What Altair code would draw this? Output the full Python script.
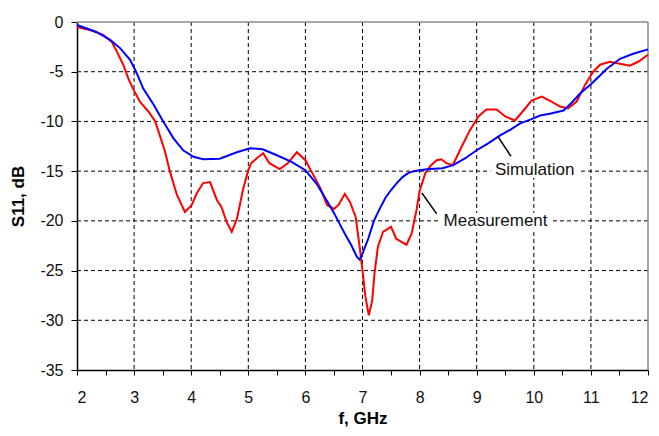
import altair as alt
import pandas as pd

# ---- data ----
sim_f = [2.0, 2.34, 2.58, 2.75, 2.93, 3.0, 3.05, 3.16, 3.34, 3.51, 3.69, 3.86, 4.04, 4.21, 4.5,
         4.8, 5.03, 5.25, 5.5, 5.75, 6.0, 6.2, 6.4, 6.5, 6.6, 6.7, 6.8, 6.9, 6.95, 7.0, 7.1,
         7.2, 7.3, 7.4, 7.5, 7.6, 7.7, 7.8, 7.9, 8.12, 8.4, 8.59, 8.8, 9.0, 9.2, 9.41, 9.6,
         9.76, 9.95, 10.11, 10.3, 10.52, 10.65, 10.81, 11.01, 11.28, 11.51, 11.74, 12.0]
sim_db = [-0.3, -1.0, -1.8, -2.6, -3.8, -4.6, -5.2, -6.7, -8.3, -10.0, -11.7, -12.9, -13.55, -13.8, -13.75,
          -13.1, -12.7, -12.8, -13.4, -14.05, -14.9, -16.3, -18.2, -19.2, -20.3, -21.4, -22.4, -23.6, -23.9, -23.3, -21.8,
          -20.0, -18.8, -17.7, -16.9, -16.2, -15.6, -15.2, -15.0, -14.8, -14.7, -14.4, -13.7, -12.9, -12.2, -11.4, -10.8,
          -10.2, -9.8, -9.4, -9.2, -8.9, -8.2, -7.2, -6.2, -4.7, -3.7, -3.2, -2.75]

meas_f = [2.0, 2.23, 2.46, 2.61, 2.7, 2.81, 2.9, 2.99, 3.1, 3.25, 3.37, 3.45, 3.54, 3.63, 3.75, 3.89,
          4.01, 4.1, 4.21, 4.33, 4.45, 4.53, 4.62, 4.71, 4.8, 4.91, 5.0, 5.05, 5.15, 5.26, 5.37, 5.55,
          5.69, 5.85, 6.0, 6.14, 6.26, 6.38, 6.5, 6.58, 6.69, 6.78, 6.88, 6.95, 7.0, 7.05, 7.11, 7.17,
          7.21, 7.27, 7.36, 7.5, 7.59, 7.77, 7.86, 7.95, 8.0, 8.1, 8.2, 8.3, 8.38, 8.47, 8.58, 8.74,
          8.88, 9.03, 9.17, 9.35, 9.5, 9.67, 9.82, 9.96, 10.14, 10.31, 10.46, 10.6, 10.75, 10.9, 11.04,
          11.16, 11.33, 11.51, 11.68, 11.83, 12.0]
meas_db = [-0.5, -0.8, -1.3, -2.0, -3.0, -4.3, -5.7, -6.8, -8.0, -9.0, -10.0, -11.4, -13.0, -15.1, -17.4, -19.1,
           -18.4, -17.2, -16.2, -16.1, -17.9, -18.6, -20.1, -21.1, -19.8, -16.8, -14.9, -14.2, -13.7, -13.2, -14.2, -14.8,
           -14.2, -13.1, -13.9, -15.4, -16.7, -18.4, -18.8, -18.4, -17.3, -18.1, -19.6, -22.6, -25.0, -27.6, -29.5, -28.0,
           -25.3, -22.6, -21.1, -20.6, -21.8, -22.4, -21.3, -18.8, -17.0, -15.2, -14.4, -13.9, -13.8, -14.2, -14.4, -12.5,
           -10.9, -9.5, -8.8, -8.8, -9.5, -9.9, -8.9, -7.9, -7.5, -8.0, -8.5, -8.7, -8.0, -6.3, -5.0,
           -4.3, -4.0, -4.2, -4.4, -4.0, -3.3]

x_grid = [3, 4, 5, 6, 7, 8, 9, 10, 11]
y_grid = [-30, -25, -20, -15, -10, -5]
x_ticks = [2 + 0.5 * i for i in range(21)]
y_ticks = [-35, -30, -25, -20, -15, -10, -5, 0]

labels = ["Simulation", "Measurement"]
label_f = [9.32, 8.42]
label_db = [-14.9, -20.0]
box_f1 = [9.24, 8.34]
box_f2 = [10.8, 10.33]
box_db1 = [-14.1, -19.2]
box_db2 = [-15.7, -20.8]
lead_f1 = [9.37, 8.04]
lead_db1 = [-11.5, -17.2]
lead_f2 = [9.6, 8.3]
lead_db2 = [-13.5, -19.3]

FONT = "Liberation Sans"

lines_df = pd.concat([
    pd.DataFrame({"f": meas_f, "db": meas_db, "series": "Measurement", "order": range(len(meas_f))}),
    pd.DataFrame({"f": sim_f, "db": sim_db, "series": "Simulation", "order": range(len(sim_f))}),
])

xscale = alt.Scale(domain=[2, 12], nice=False, zero=False)
yscale = alt.Scale(domain=[-35, 0], nice=False, zero=False)

xaxis = alt.Axis(
    values=x_ticks, grid=False, title="f, GHz",
    labelExpr="datum.value % 1 == 0 ? toString(datum.value) : ''",
    domainColor="black", domainWidth=1.5, tickColor="black", tickSize=5, tickWidth=1,
    labelFont=FONT, labelFontSize=16, labelColor="#111", labelPadding=14,
    titleFont=FONT, titleFontSize=17, titleFontWeight="bold", titleColor="black",
    titleX=285.5, titleY=48, titleBaseline="middle", titleAlign="center",
)
yaxis = alt.Axis(
    values=y_ticks, grid=False, title="S11, dB",
    labelExpr="toString(datum.value)",
    domainColor="black", domainWidth=1.5, tickColor="black", tickSize=6, tickWidth=1,
    labelFont=FONT, labelFontSize=16, labelColor="#111", labelPadding=8,
    titleFont=FONT, titleFontSize=17, titleFontWeight="bold", titleColor="black",
    titleX=-59, titleY=174, titleAngle=-90, titleBaseline="middle", titleAlign="center",
)


def X(field):
    return alt.X(field, scale=xscale, axis=xaxis)


def Y(field):
    return alt.Y(field, scale=yscale, axis=yaxis)


vgrid = alt.Chart(pd.DataFrame({"g": x_grid})).mark_rule(
    color="black", strokeWidth=1, strokeDash=[4, 3]
).encode(x=X("g:Q"))

hgrid = alt.Chart(pd.DataFrame({"g": y_grid})).mark_rule(
    color="black", strokeWidth=1, strokeDash=[4, 3]
).encode(y=Y("g:Q"))

top_border = alt.Chart(pd.DataFrame({"g": [0]})).mark_rule(
    color="#8a8a8a", strokeWidth=1.5
).encode(y=Y("g:Q"))
right_border = alt.Chart(pd.DataFrame({"g": [12]})).mark_rule(
    color="#8a8a8a", strokeWidth=1.5
).encode(x=X("g:Q"))

ann_df = pd.DataFrame({
    "label": labels, "lf": label_f, "ldb": label_db,
    "bf1": box_f1, "bf2": box_f2, "bdb1": box_db1, "bdb2": box_db2,
    "f1": lead_f1, "db1": lead_db1, "f2": lead_f2, "db2": lead_db2,
})

boxes = alt.Chart(ann_df).mark_rect(color="white").encode(
    x=X("bf1:Q"), x2="bf2:Q",
    y=Y("bdb1:Q"), y2="bdb2:Q",
)

lines = alt.Chart(lines_df).mark_line(strokeWidth=2).encode(
    x=X("f:Q"),
    y=Y("db:Q"),
    color=alt.Color("series:N", scale=alt.Scale(domain=["Measurement", "Simulation"],
                                                range=["#ff0000", "#0000ff"]), legend=None),
    order="order:Q",
)

leaders = alt.Chart(ann_df).mark_rule(color="black", strokeWidth=1.5).encode(
    x=X("f1:Q"), x2="f2:Q",
    y=Y("db1:Q"), y2="db2:Q",
)

texts = alt.Chart(ann_df).mark_text(
    align="left", baseline="middle", font=FONT, fontSize=17, color="#111"
).encode(
    x=X("lf:Q"),
    y=Y("ldb:Q"),
    text="label:N",
)

chart = alt.layer(vgrid, hgrid, top_border, right_border, boxes, lines, leaders, texts).properties(
    width=571, height=348,
    autosize=alt.AutoSizeParams(type="none"),
    padding={"left": 69, "top": 14, "right": 3, "bottom": 58},
    background="white",
).configure_view(stroke=None)

chart.save("out.html", embed_options={"renderer": "svg", "actions": False})
